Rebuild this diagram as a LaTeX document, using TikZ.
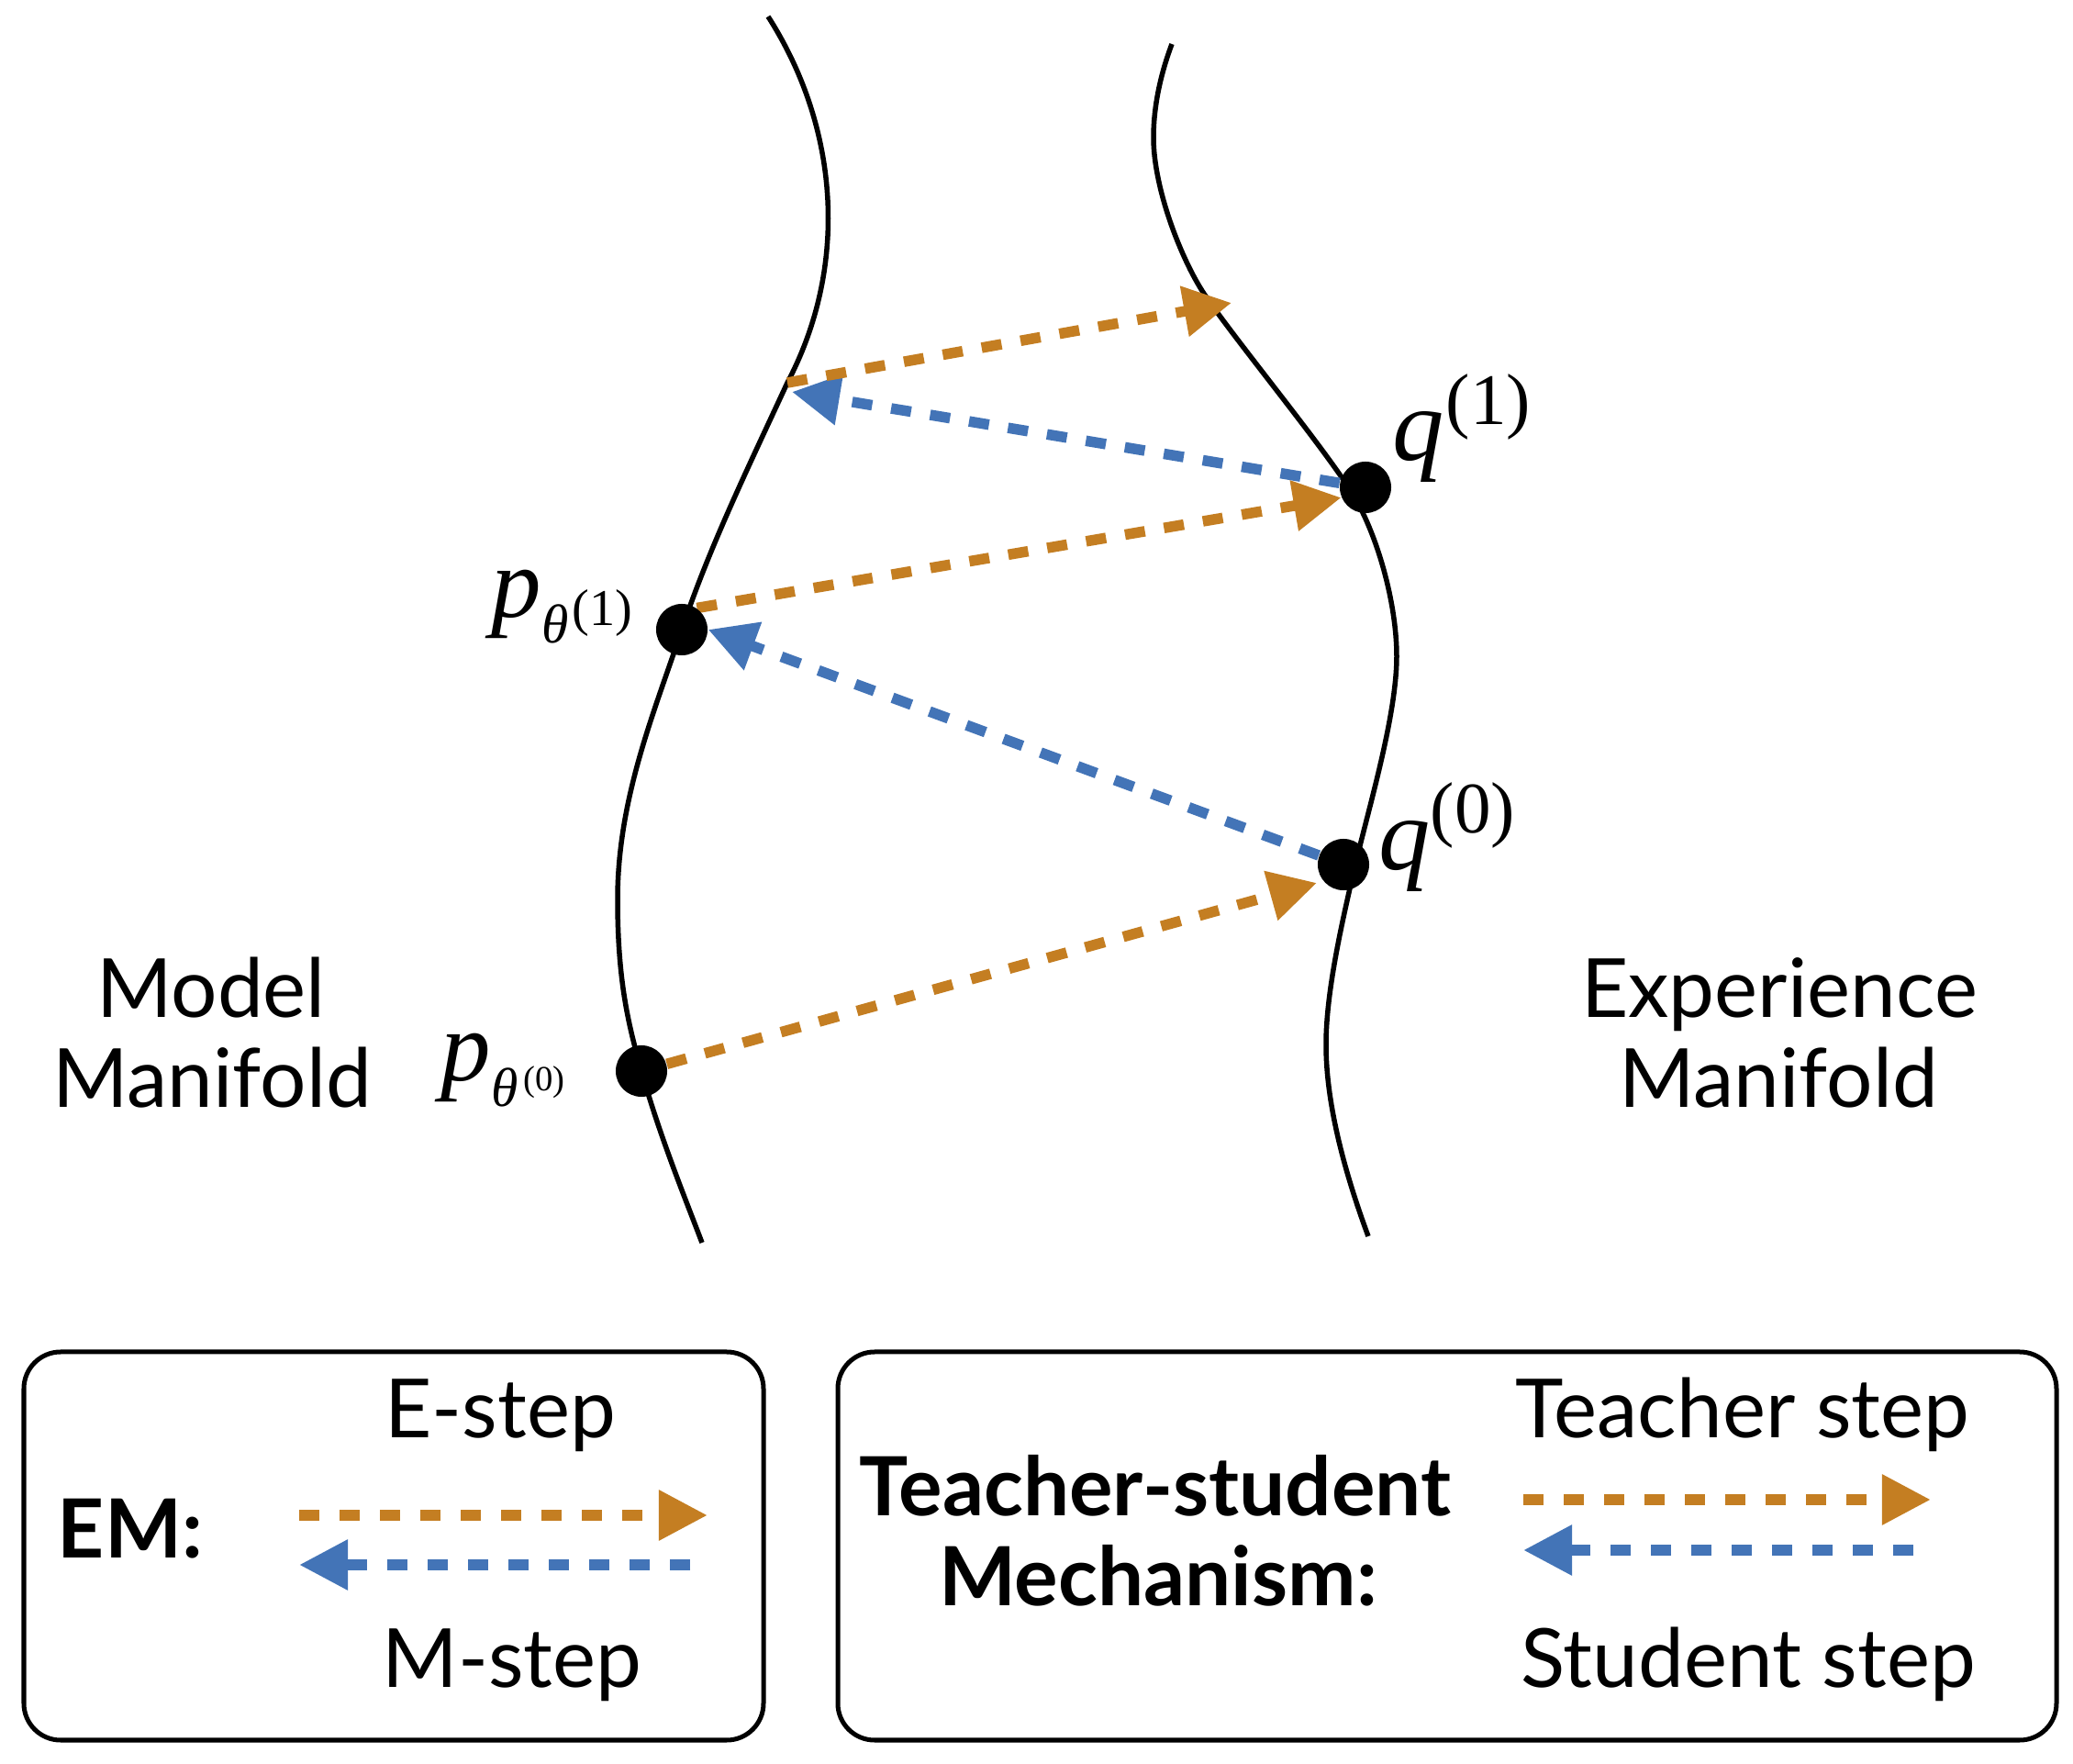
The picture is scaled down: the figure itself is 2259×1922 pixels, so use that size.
\documentclass[tikz,border=0pt]{standalone}
\usepackage{fontspec}
\setmainfont{Lato}
\newfontfamily\tms{Liberation Serif}
\usetikzlibrary{arrows.meta}
\definecolor{eorange}{RGB}{196,126,34}
\definecolor{mblue}{RGB}{67,116,183}
\pgfdeclarelayer{bg}
\pgfdeclarelayer{paper}
\pgfsetlayers{paper,bg,main}
\begin{document}
\begin{tikzpicture}[x=0.01cm,y=-0.01cm,
  dot/.style={circle,fill=black,inner sep=0pt,minimum size=0.56cm},
  manifold/.style={line width=0.055cm,black},
  estep/.style={draw=eorange,line width=0.115cm,dash pattern=on 0.22cm off 0.21cm,-{Triangle[length=0.52cm,width=0.53cm]}},
  mstep/.style={draw=mblue,line width=0.115cm,dash pattern=on 0.22cm off 0.21cm,-{Triangle[length=0.52cm,width=0.53cm]}},
  estepL/.style={draw=eorange,line width=0.12cm,dash pattern=on 0.22cm off 0.22cm,-{Triangle[length=0.53cm,width=0.52cm]}},
  mstepL/.style={draw=mblue,line width=0.12cm,dash pattern=on 0.22cm off 0.22cm,-{Triangle[length=0.53cm,width=0.52cm]}},
  legbox/.style={draw=black,line width=0.05cm,rounded corners=0.4cm},
  txt/.style={font=\fontsize{25.3}{30}\selectfont,inner sep=0pt,anchor=base},
  txtb/.style={font=\fontsize{25.3}{30}\selectfont\bfseries,inner sep=0pt,anchor=base},
  mlabel/.style={inner sep=0pt,anchor=base west}]
\begin{pgfonlayer}{paper}
\fill[white] (0,0) rectangle (2259,1922);
\end{pgfonlayer}
\useasboundingbox (0,0) rectangle (2259,1922);

% points on the manifolds
\node[dot] (p1) at (743,686) {};
\node[dot] (p0) at (699,1167) {};
\node[dot] (q1) at (1488,531) {};
\node[dot] (q0) at (1464,942) {};

\begin{pgfonlayer}{bg}
% model manifold
\draw[manifold] (837,18) .. controls (915,140) and (925,290) .. (858,417)
  .. controls (816,508) and (773,596) .. (743,686)
  .. controls (713,776) and (673,870) .. (673,980)
  .. controls (673,1070) and (685,1117) .. (699,1167)
  .. controls (719,1238) and (746,1304) .. (765,1354);
% experience manifold
\draw[manifold] (1277,48) .. controls (1265,80) and (1257,115) .. (1257,150)
  .. controls (1257,205) and (1287,282) .. (1312,320)
  .. controls (1347,372) and (1453,500) .. (1478,545)
  .. controls (1503,590) and (1522,660) .. (1522,715)
  .. controls (1522,780) and (1491,882) .. (1477,942)
  .. controls (1463,1002) and (1445,1080) .. (1445,1138)
  .. controls (1445,1210) and (1470,1290) .. (1491,1347);

\coordinate (a5s) at (858,417);
\coordinate (a5t) at (1342,330);
\coordinate (a4t) at (863,427);
\coordinate (a1t) at (1435,962);
\draw[estep] (p0) -- (a1t);
\draw[mstep] (q0) -- (p1.east);
\draw[estep] (p1.55) -- (q1.203);
\draw[mstep] (q1) -- (a4t);
\draw[estep] (a5s) -- (a5t);
\end{pgfonlayer}

% math labels
\node[mlabel] (lp1) at (535,673) {\tms\fontsize{31}{31}\selectfont\itshape p\raisebox{-0.27cm}{\fontsize{17}{17}\selectfont θ}\kern0.04cm\raisebox{-0.09cm}{\upshape\fontsize{16}{16}\selectfont(1)}};
\node[mlabel] (lp0) at (480,1178) {\tms\fontsize{31}{31}\selectfont\itshape p\raisebox{-0.27cm}{\fontsize{17}{17}\selectfont θ}\kern0.06cm\raisebox{-0.10cm}{\upshape\fontsize{11}{11}\selectfont(0)}};
\node[mlabel] (lq1) at (1517,502) {\tms\fontsize{32}{32}\selectfont\itshape q\kern0.02cm\raisebox{0.39cm}{\upshape\fontsize{22.5}{22.5}\selectfont(1)}};
\node[mlabel] (lq0) at (1502,948) {\tms\fontsize{32}{32}\selectfont\itshape q\kern0.0cm\raisebox{0.40cm}{\upshape\fontsize{22.5}{22.5}\selectfont(0)}};

% manifold names
\node[txt] (mm1) at (230,1109) {Model};
\node[txt] (mm2) at (231,1207) {Manifold};
\node[txt] (xm1) at (1939,1109) {Experience};
\node[txt] (xm2) at (1938,1207) {Manifold};

% legend: EM
\draw[legbox] (26,1473) rectangle (832,1896);
\node[txtb] (em) at (142,1698) {EM:};
\node[txt] (estep) at (545,1567) {E-step};
\node[txt] (mstep) at (558,1838) {M-step};
\coordinate (le1) at (326,1651);
\coordinate (le2) at (771,1651);
\coordinate (lm1) at (752,1705);
\coordinate (lm2) at (326,1705);
\draw[estepL] (le1) -- (le2);
\draw[mstepL] (lm1) -- (lm2);

% legend: teacher-student
\draw[legbox] (913,1473) rectangle (2241,1896);
\node[txtb] (ts1) at (1259,1652) {Teacher-student};
\node[txtb] (ts2) at (1262,1750) {Mechanism:};
\node[txt] (tstep) at (1899,1567) {Teacher step};
\node[txt] (sstep) at (1905,1838) {Student step};
\coordinate (lt1) at (1660,1634);
\coordinate (lt2) at (2104,1634);
\coordinate (ls1) at (2085,1689);
\coordinate (ls2) at (1660,1689);
\draw[estepL] (lt1) -- (lt2);
\draw[mstepL] (ls1) -- (ls2);
\end{tikzpicture}
\end{document}
